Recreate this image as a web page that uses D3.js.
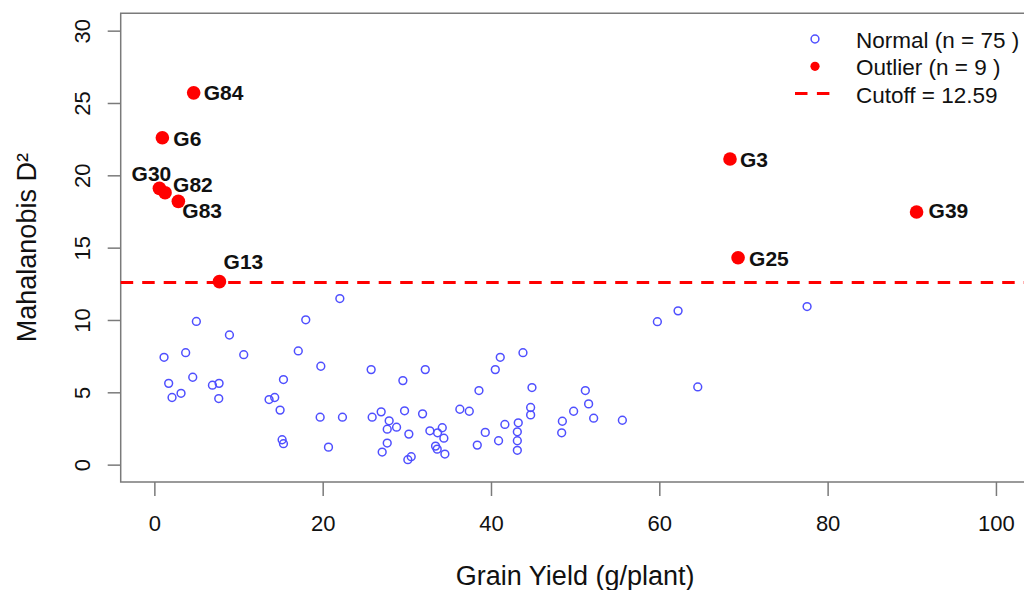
<!DOCTYPE html>
<html>
<head>
<meta charset="utf-8">
<script src="https://cdn.jsdelivr.net/npm/d3@7/dist/d3.min.js"></script>
<style>
  html, body { margin: 0; padding: 0; background: #fff; }
  svg { display: block; font-family: "Liberation Sans", Arial, sans-serif; }
</style>
</head>
<body>
<svg id="chart" width="1024" height="590"></svg>
<script>
// values
const normalYield = [
  4.99, 8.92, 1.15, 3.72, 10.62, 17.1, 1.7, 4.56, 6.9, 7.69,
  15.34, 2.1, 3.17, 7.65, 13.63, 14.3, 14.94, 15.18, 15.34, 22.04,
  17.99, 19.78, 25.76, 32.19, 29.53, 19.7, 22.35, 25.88, 26.95, 29.73,
  31.87, 27.9, 27.67, 28.78, 30.24, 32.74, 33.65, 34.21, 34.4, 20.69,
  27.67, 27.07, 33.41, 33.61, 34.52, 30.12, 30.52, 43.8, 41.1, 40.51,
  38.57, 44.87, 36.3, 37.42, 44.71, 44.71, 43.24, 41.65, 39.32, 43.13,
  43.13, 38.37, 40.9, 43.13, 51.21, 51.6, 49.82, 48.48, 52.2, 48.4,
  55.61, 59.77, 62.23, 64.57, 77.56
];
const normalD2 = [
  9.9, 8.96, 7.42, 7.74, 7.6, 7.86, 5.62, 6.04, 5.49, 5.62,
  5.88, 4.64, 4.93, 4.57, 4.5, 4.64, 3.77, 1.72, 1.45, 11.48,
  10.01, 6.8, 6.57, 6.57, 5.81, 3.28, 3.28, 3.28, 3.65, 3.72,
  3.51, 3.03, 2.45, 2.59, 2.11, 2.34, 2.2, 2.55, 1.83, 1.21,
  1.49, 0.87, 1.28, 1.07, 0.73, 0.34, 0.55, 7.74, 7.42, 6.57,
  5.12, 5.33, 3.83, 3.69, 3.95, 3.44, 2.89, 2.78, 2.23, 2.27,
  1.65, 1.35, 1.65, 0.99, 5.12, 4.2, 3.69, 3.0, 3.21, 2.2,
  3.07, 9.88, 10.63, 5.37, 10.93
];

const outlierIds   = ["G84", "G6", "G30", "G82", "G83", "G13", "G3", "G25", "G39"];
const outlierYield = [4.67, 0.95, 0.6, 1.27, 2.85, 7.73, 68.4, 69.36, 90.57];
const outlierD2    = [25.7, 22.6, 19.1, 18.8, 18.2, 12.65, 21.13, 14.3, 17.46];

const cutoff = 12.59;
const xTicks = [0, 20, 40, 60, 80, 100];
const yTicks = [0, 5, 10, 15, 20, 25, 30];

const legendLabels = [
  `Normal (n = ${normalYield.length} )`,
  `Outlier (n = ${outlierIds.length} )`,
  `Cutoff = ${cutoff}`
];

// where each label sits relative to its point (text-anchor, dx, dy)
const labelPlacement = {
  G84: ["start", 10, 0],
  G6:  ["start", 11, 1],
  G30: ["middle", -8, -15],
  G82: ["start", 8, -8],
  G83: ["start", 4, 9],
  G13: ["middle", 24, -20],
  G3:  ["start", 10, 1],
  G25: ["start", 11, 1],
  G39: ["start", 12, -2]
};

const svg = d3.select("#chart");
const box = { left: 120.7, right: 1029.6, top: 13.3, bottom: 482 };

const x = d3.scaleLinear().domain([-4, 104]).range([box.left, box.right]);
const y = d3.scaleLinear().domain([-1.2, 31.2]).range([box.bottom, box.top]);

const axisColor = "#7a7a7a";
const blue = "#4f4fff";
const red = "#ff0000";

// axes
const xAxis = svg.append("g")
  .attr("transform", `translate(0,${box.bottom})`)
  .call(d3.axisBottom(x).tickValues(xTicks).tickSize(14).tickPadding(19));

const yAxis = svg.append("g")
  .attr("transform", `translate(${box.left},0)`)
  .call(d3.axisLeft(y).tickValues(yTicks).tickSize(13));

[xAxis, yAxis].forEach((g) => {
  g.select(".domain").remove();
  g.selectAll(".tick line").attr("stroke", axisColor).attr("stroke-width", 1.5);
  g.selectAll(".tick text")
    .attr("fill", "#111")
    .style("font-size", "22px")
    .style("font-family", "\"Liberation Sans\", Arial, sans-serif");
});

yAxis.selectAll(".tick text")
  .attr("x", null)
  .attr("dy", null)
  .attr("text-anchor", "middle")
  .attr("dominant-baseline", "central")
  .attr("transform", "translate(-38.7,0) rotate(-90)");

// plot frame (right side falls outside the window)
svg.append("path")
  .attr("d", `M${box.right},${box.top}H${box.left}V${box.bottom}H${box.right}`)
  .attr("fill", "none")
  .attr("stroke", axisColor)
  .attr("stroke-width", 1.5);

// axis titles
svg.append("text")
  .attr("x", (box.left + box.right) / 2)
  .attr("y", 585)
  .attr("text-anchor", "middle")
  .attr("fill", "#111")
  .style("font-size", "27px")
  .text("Grain Yield (g/plant)");

svg.append("text")
  .attr("transform", `translate(36,${(box.top + box.bottom) / 2}) rotate(-90)`)
  .attr("text-anchor", "middle")
  .attr("fill", "#111")
  .style("font-size", "27px")
  .text("Mahalanobis D²");

// cutoff line
svg.append("line")
  .attr("x1", box.left).attr("x2", box.right)
  .attr("y1", y(cutoff)).attr("y2", y(cutoff))
  .attr("stroke", red)
  .attr("stroke-width", 3)
  .attr("stroke-dasharray", "12.5 9");

// normal points
svg.append("g")
  .selectAll("circle")
  .data(normalYield.map((v, i) => [v, normalD2[i]]))
  .join("circle")
  .attr("cx", (d) => x(d[0]))
  .attr("cy", (d) => y(d[1]))
  .attr("r", 3.9)
  .attr("fill", "none")
  .attr("stroke", blue)
  .attr("stroke-width", 1.5);

// outliers
const outliers = outlierIds.map((id, i) => ({ id, gy: outlierYield[i], d2: outlierD2[i] }));

svg.append("g")
  .selectAll("circle")
  .data(outliers)
  .join("circle")
  .attr("cx", (d) => x(d.gy))
  .attr("cy", (d) => y(d.d2))
  .attr("r", 6.8)
  .attr("fill", red);

svg.append("g")
  .selectAll("text")
  .data(outliers)
  .join("text")
  .attr("x", (d) => x(d.gy) + labelPlacement[d.id][1])
  .attr("y", (d) => y(d.d2) + labelPlacement[d.id][2])
  .attr("text-anchor", (d) => labelPlacement[d.id][0])
  .attr("dominant-baseline", "central")
  .attr("fill", "#111")
  .style("font-size", "21px")
  .style("font-weight", "bold")
  .text((d) => d.id);

// legend, no frame
const legend = svg.append("g").attr("transform", "translate(815,39)");
const rowGap = 27.3;

legend.selectAll("text")
  .data(legendLabels)
  .join("text")
  .attr("x", 41)
  .attr("y", (d, i) => i * rowGap + 1.5)
  .attr("dominant-baseline", "central")
  .attr("fill", "#111")
  .style("font-size", "22.5px")
  .text((d) => d);

legend.append("circle")
  .attr("r", 3.9)
  .attr("fill", "none")
  .attr("stroke", blue)
  .attr("stroke-width", 1.5);

legend.append("circle")
  .attr("cy", rowGap)
  .attr("r", 4.6)
  .attr("fill", red);

legend.append("line")
  .attr("x1", -20).attr("x2", 14.5)
  .attr("y1", rowGap * 2).attr("y2", rowGap * 2)
  .attr("stroke", red)
  .attr("stroke-width", 3)
  .attr("stroke-dasharray", "12.5 9.4");
</script>
</body>
</html>
